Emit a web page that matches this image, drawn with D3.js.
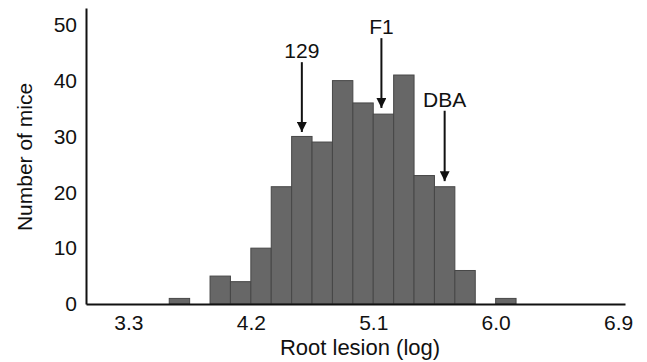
<!DOCTYPE html>
<html>
<head>
<meta charset="utf-8">
<script src="https://cdn.jsdelivr.net/npm/d3@7"></script>
<style>
  body { margin: 0; background: #fff; }
  text { font-family: "Liberation Sans", Arial, sans-serif; fill: #111; }
</style>
</head>
<body>
<svg id="hist"></svg>
<script>
// bin lower edges (log root lesion) and counts
const binStarts = [3.60, 3.75, 3.90, 4.05, 4.20, 4.35, 4.50, 4.65, 4.80, 4.95, 5.10, 5.25, 5.40, 5.55, 5.70, 5.85, 6.00];
const counts    = [1, 0, 5, 4, 10, 21, 30, 29, 40, 36, 34, 41, 23, 21, 6, 0, 1];
const binWidth = 0.15;

const xTicks = [3.3, 4.2, 5.1, 6.0, 6.9];
const yTicks = [0, 10, 20, 30, 40, 50];

// strain markers
const markLabels = ['129', 'F1', 'DBA'];
const markX      = [4.575, 5.16, 5.625];
const markTop    = [43.3, 47.6, 34.6];
const markTip    = [30.8, 35.1, 22.0];

const W = 647, H = 362;
const margin = { top: 8, right: 22, bottom: 58, left: 86 };

const svg = d3.select('#hist').attr('width', W).attr('height', H);

const x = d3.scaleLinear().domain([2.988, 6.951]).range([margin.left, W - margin.right]);
const y = d3.scaleLinear().domain([0, 53]).range([H - margin.bottom, margin.top]);

const bins = binStarts.map((s, i) => ({ x0: s, x1: s + binWidth, n: counts[i] }));

// bars
svg.append('g')
  .selectAll('rect')
  .data(bins.filter(d => d.n > 0))
  .enter()
  .append('rect')
  .attr('x', d => x(d.x0))
  .attr('width', d => x(d.x1) - x(d.x0))
  .attr('y', d => y(d.n))
  .attr('height', d => y(0) - y(d.n))
  .attr('fill', '#676767')
  .attr('stroke', '#474747')
  .attr('stroke-width', 1);

// axes
const xAxis = svg.append('g')
  .attr('transform', `translate(0,${y(0)})`)
  .call(d3.axisBottom(x).tickValues(xTicks).tickFormat(d3.format('.1f')).tickSize(0).tickPadding(11));
const yAxis = svg.append('g')
  .attr('transform', `translate(${x.range()[0]},0)`)
  .call(d3.axisLeft(y).tickValues(yTicks).tickSize(0).tickPadding(9));

[xAxis, yAxis].forEach(g => {
  g.select('.domain').attr('stroke', '#111').attr('stroke-width', 2);
  g.selectAll('text').style('font-size', '21px').attr('fill', '#111');
});

// axis titles
svg.append('text')
  .attr('x', 360).attr('y', 355)
  .attr('text-anchor', 'middle')
  .style('font-size', '22px')
  .text('Root lesion (log)');

svg.append('text')
  .attr('transform', 'translate(32,157) rotate(-90)')
  .attr('text-anchor', 'middle')
  .style('font-size', '21px')
  .text('Number of mice');

// arrows
svg.append('defs').append('marker')
  .attr('id', 'head')
  .attr('viewBox', '0 0 10 10')
  .attr('refX', 10).attr('refY', 5)
  .attr('markerWidth', 10).attr('markerHeight', 10)
  .attr('markerUnits', 'userSpaceOnUse')
  .attr('orient', 'auto')
  .append('path')
  .attr('d', 'M0,0L10,5L0,10Z')
  .attr('fill', '#111');

const marks = svg.append('g')
  .selectAll('g')
  .data(markLabels.map((l, i) => ({ label: l, x: markX[i], top: markTop[i], tip: markTip[i] })))
  .enter()
  .append('g');

marks.append('line')
  .attr('x1', d => x(d.x)).attr('x2', d => x(d.x))
  .attr('y1', d => y(d.top)).attr('y2', d => y(d.tip))
  .attr('stroke', '#111')
  .attr('stroke-width', 2)
  .attr('marker-end', 'url(#head)');

marks.append('text')
  .attr('x', d => x(d.x))
  .attr('y', d => y(d.top) - 4)
  .attr('text-anchor', 'middle')
  .style('font-size', '21px')
  .text(d => d.label);
</script>
</body>
</html>
